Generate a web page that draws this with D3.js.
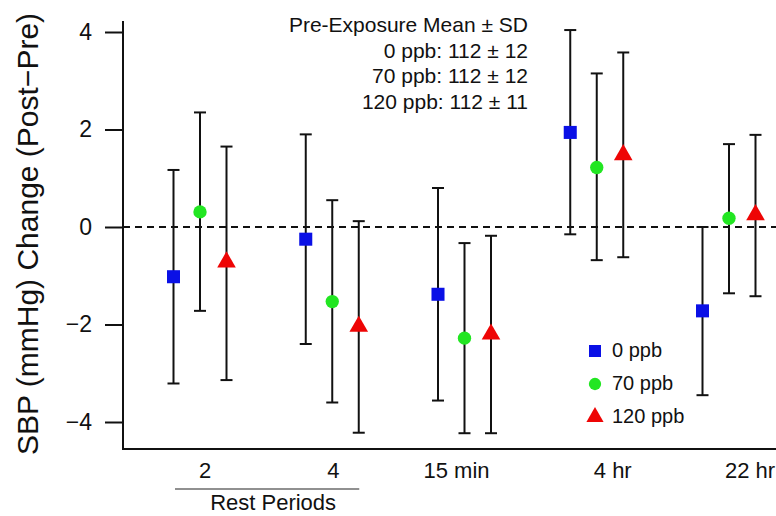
<!DOCTYPE html>
<meta charset="utf-8">
<style>
    body { margin: 0; background: #fff; }
    text { font-family: "Liberation Sans", Arial, sans-serif; fill: #111; }
</style>
<body>
<script src="https://d3js.org/d3.v7.min.js"></script>
<script>
    // categories and series
    const periods = ["2", "4", "15 min", "4 hr", "22 hr"];
    const doses = ["0 ppb", "70 ppb", "120 ppb"];

    // mean change for each dose, per period
    const mean0 = [-1.02, -0.25, -1.38, 1.94, -1.72];
    const mean70 = [0.31, -1.53, -2.28, 1.22, 0.18];
    const mean120 = [-0.72, -2.04, -2.20, 1.48, 0.25];

    // error bar ends
    const hi0 = [1.17, 1.90, 0.80, 4.04, 0.00];
    const lo0 = [-3.21, -2.40, -3.56, -0.15, -3.45];
    const hi70 = [2.35, 0.55, -0.33, 3.15, 1.70];
    const lo70 = [-1.72, -3.60, -4.23, -0.68, -1.36];
    const hi120 = [1.65, 0.12, -0.18, 3.58, 1.89];
    const lo120 = [-3.14, -4.22, -4.23, -0.62, -1.42];

    const yTicks = [-4, -2, 0, 2, 4];
    const preLines = ["Pre-Exposure Mean \u00b1 SD", "0 ppb: 112 \u00b1 12", "70 ppb: 112 \u00b1 12", "120 ppb: 112 \u00b1 11"];

    const colors = ["#0a10e6", "#22e622", "#ee0505"];
    const shapes = [d3.symbolSquare, d3.symbolCircle, d3.symbolTriangle];
    const symSize = [170, 140, 150];

    const W = 776, H = 516;
    const axLeft = 123, axBottom = 449, axTop = 21;

    const svg = d3.select("body").append("svg")
        .attr("width", W).attr("height", H);

    // scales
    const y = d3.scaleLinear().domain([0, 1]).range([227, 178.25]);
    const x = d3.scaleLinear().domain([0, 4]).range([200, 729]);
    const off = d3.scalePoint().domain(doses).range([-26.5, 26.5]);

    // dashed zero line
    svg.append("line")
        .attr("x1", axLeft).attr("x2", W)
        .attr("y1", y(0)).attr("y2", y(0))
        .attr("stroke", "#111").attr("stroke-width", 2)
        .attr("stroke-dasharray", "7,5");

    // y axis
    const yAxis = svg.append("g")
        .attr("transform", "translate(" + axLeft + ",0)")
        .call(d3.axisLeft(y).tickValues(yTicks).tickSize(18).tickPadding(13)
            .tickFormat(d => d < 0 ? "\u2212" + Math.abs(d) : d));
    yAxis.select(".domain").remove();
    yAxis.selectAll("line").attr("stroke", "#111").attr("stroke-width", 2);
    yAxis.selectAll("text").attr("font-size", 23).attr("font-family", "Liberation Sans").attr("fill", "#111");

    svg.append("line")
        .attr("x1", axLeft).attr("x2", axLeft).attr("y1", axTop).attr("y2", axBottom)
        .attr("stroke", "#111").attr("stroke-width", 2);
    svg.append("line")
        .attr("x1", axLeft - 1).attr("x2", W).attr("y1", axBottom).attr("y2", axBottom)
        .attr("stroke", "#111").attr("stroke-width", 2);

    // x labels (slightly nudged as in the original)
    const labelNudge = [5, 1, -8, 16, 21];
    svg.selectAll(".xlab").data(periods).enter().append("text")
        .attr("class", "xlab")
        .attr("x", (d, i) => x(i) + labelNudge[i])
        .attr("y", 478)
        .attr("text-anchor", "middle")
        .attr("font-size", 22)
        .text(d => d);

    // Rest Periods bracket
    svg.append("line")
        .attr("x1", x(0) - 25).attr("x2", x(1) + 27)
        .attr("y1", 489).attr("y2", 489)
        .attr("stroke", "#222").attr("stroke-width", 1.2);
    svg.append("text")
        .attr("x", (x(0) + x(1)) / 2 + 7).attr("y", 510)
        .attr("text-anchor", "middle").attr("font-size", 22)
        .text("Rest Periods");

    // y title
    svg.append("text")
        .attr("transform", "translate(38," + 234 + ") rotate(-90)")
        .attr("text-anchor", "middle").attr("font-size", 30)
        .text("SBP (mmHg) Change (Post\u2212Pre)");

    // series
    const series = [
        {m: mean0, hi: hi0, lo: lo0},
        {m: mean70, hi: hi70, lo: lo70},
        {m: mean120, hi: hi120, lo: lo120}
    ];

    series.forEach((s, k) => {
        const g = svg.append("g");
        const px = i => x(i) + off(doses[k]);
        const idx = d3.range(periods.length);
        g.selectAll(".bar").data(idx).enter().append("line")
            .attr("x1", px).attr("x2", px)
            .attr("y1", i => y(s.hi[i])).attr("y2", i => y(s.lo[i]))
            .attr("stroke", "#111").attr("stroke-width", 2);
        [s.hi, s.lo].forEach(arr => {
            g.selectAll(null).data(idx).enter().append("line")
                .attr("x1", i => px(i) - 6).attr("x2", i => px(i) + 6)
                .attr("y1", i => y(arr[i])).attr("y2", i => y(arr[i]))
                .attr("stroke", "#111").attr("stroke-width", 2);
        });
        g.selectAll("path").data(idx).enter().append("path")
            .attr("d", d3.symbol().type(shapes[k]).size(symSize[k]))
            .attr("transform", i => "translate(" + px(i) + "," + y(s.m[i]) + ")")
            .attr("fill", colors[k]);
    });

    // pre-exposure note
    svg.append("text")
        .attr("text-anchor", "end").attr("font-size", 21)
        .selectAll("tspan").data(preLines).enter().append("tspan")
        .attr("x", 528).attr("y", (d, i) => 32 + i * 25.5)
        .text(d => d);

    // legend
    const leg = svg.append("g");
    doses.forEach((d, k) => {
        const ly = 351 + k * 33;
        leg.append("path")
            .attr("d", d3.symbol().type(shapes[k]).size(symSize[k] * 0.85))
            .attr("transform", "translate(595," + ly + ")")
            .attr("fill", colors[k]);
        leg.append("text")
            .attr("x", 612).attr("y", ly + 6)
            .attr("font-size", 20).text(d);
    });
</script>
</body>
